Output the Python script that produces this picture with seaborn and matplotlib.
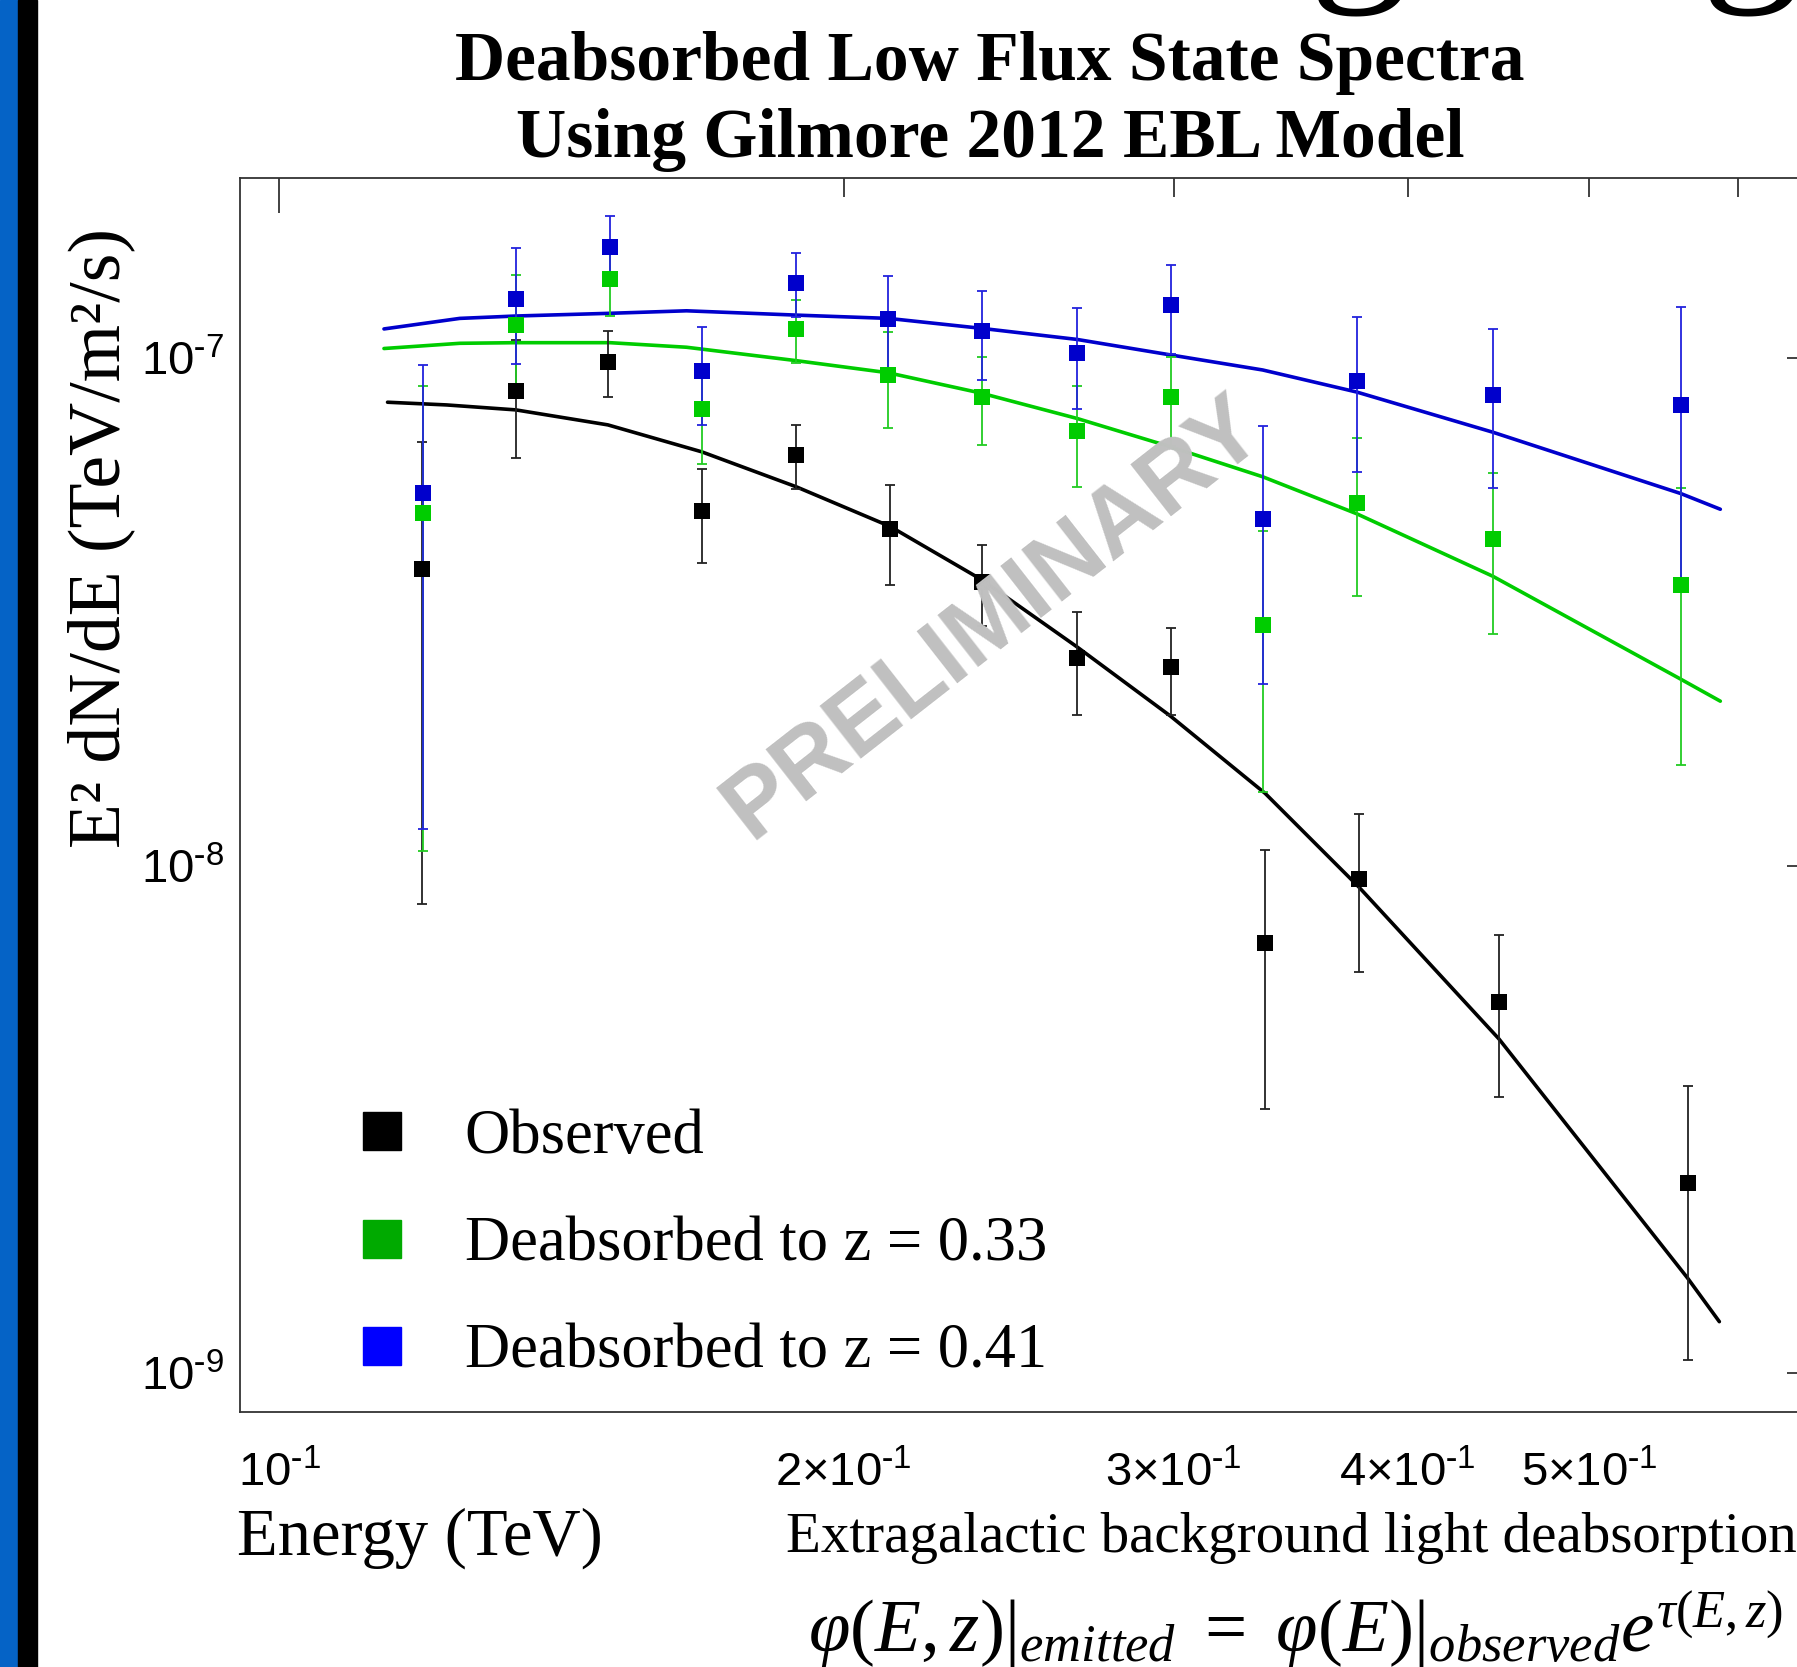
import numpy as np
import matplotlib
matplotlib.use("Agg")
import matplotlib.pyplot as plt
from matplotlib.lines import Line2D
from matplotlib.patches import Rectangle
from matplotlib.ticker import LogLocator, NullFormatter
import seaborn as sns

# ---- data ----
energy_obs = [0.1191, 0.1337, 0.1497, 0.1680, 0.1887, 0.2118, 0.2370,
              0.2664, 0.2989, 0.3357, 0.3767, 0.4474, 0.5641]
energy_deabs = [0.1193, 0.1337, 0.1501, 0.1680, 0.1887, 0.2113, 0.2370,
                0.2664, 0.2989, 0.3347, 0.3756, 0.4440, 0.5596]

flux_obs = [3.84e-8, 8.62e-8, 9.84e-8, 5.00e-8, 6.45e-8, 4.60e-8, 3.63e-8,
            2.57e-8, 2.46e-8, 7.04e-9, 9.41e-9, 5.40e-9, 2.37e-9]
err_obs = [3.00e-8, 2.25e-8, 1.45e-8, 1.05e-8, 0.93e-8, 1.02e-8, 0.66e-8,
           0.585e-8, 0.48e-8, 3.72e-9, 3.23e-9, 1.90e-9, 1.31e-9]

flux_z033 = [4.95e-8, 1.163e-7, 1.432e-7, 7.94e-8, 1.142e-7, 9.27e-8, 8.40e-8,
             7.20e-8, 8.40e-8, 2.98e-8, 5.18e-8, 4.40e-8, 3.57e-8]
err_z033 = [3.88e-8, 2.93e-8, 2.20e-8, 1.75e-8, 1.62e-8, 2.00e-8, 1.65e-8,
            1.63e-8, 1.67e-8, 1.58e-8, 1.78e-8, 1.54e-8, 1.99e-8]

flux_z041 = [5.43e-8, 1.310e-7, 1.658e-7, 9.44e-8, 1.408e-7, 1.193e-7, 1.131e-7,
             1.025e-7, 1.273e-7, 4.82e-8, 9.02e-8, 8.48e-8, 8.10e-8]
err_z041 = [4.25e-8, 3.35e-8, 2.45e-8, 2.07e-8, 2.05e-8, 2.57e-8, 2.24e-8,
            2.32e-8, 2.56e-8, 2.54e-8, 3.06e-8, 2.92e-8, 4.50e-8]

# fitted model curves
fit_e_obs = [0.1142, 0.1228, 0.1337, 0.1497, 0.1680, 0.1887, 0.2118, 0.2370,
             0.2664, 0.2988, 0.3357, 0.3768, 0.4474, 0.5641, 0.5866]
fit_f_obs = [8.19e-8, 8.09e-8, 7.91e-8, 7.39e-8, 6.54e-8, 5.58e-8, 4.66e-8, 3.66e-8,
             2.70e-8, 1.973e-8, 1.389e-8, 9.07e-9, 4.56e-9, 1.541e-9, 1.264e-9]
fit_e_deabs = [0.1137, 0.1248, 0.1337, 0.1501, 0.1649, 0.1887, 0.2113, 0.2370,
               0.2664, 0.2989, 0.3347, 0.3756, 0.4440, 0.5596, 0.5873]
fit_f_z033 = [1.045e-7, 1.070e-7, 1.073e-7, 1.073e-7, 1.051e-7, 9.89e-8, 9.36e-8, 8.53e-8,
              7.61e-8, 6.69e-8, 5.84e-8, 4.94e-8, 3.72e-8, 2.33e-8, 2.11e-8]
fit_f_z041 = [1.142e-7, 1.198e-7, 1.211e-7, 1.226e-7, 1.240e-7, 1.216e-7, 1.198e-7, 1.145e-7,
              1.089e-7, 1.015e-7, 9.48e-8, 8.58e-8, 7.15e-8, 5.41e-8, 5.04e-8]

series_labels = ["Observed", "Deabsorbed to z = 0.33", "Deabsorbed to z = 0.41"]
x_major = [0.1]
x_major_labels = [r"$\mathsf{10^{\text{-}1}}$"]
x_minor = [0.2, 0.3, 0.4, 0.5, 0.6]
x_minor_labels = [r"$\mathsf{2{\times}10^{\text{-}1}}$", r"$\mathsf{3{\times}10^{\text{-}1}}$",
                  r"$\mathsf{4{\times}10^{\text{-}1}}$", r"$\mathsf{5{\times}10^{\text{-}1}}$", ""]
y_major = [1e-9, 1e-8, 1e-7]
y_major_labels = [r"$\mathsf{10^{\text{-}9}}$", r"$\mathsf{10^{\text{-}8}}$",
                  r"$\mathsf{10^{\text{-}7}}$"]

# ---- style ----
sns.set_theme(style="white")
plt.rcParams["font.family"] = ["Liberation Serif", "DejaVu Serif"]
plt.rcParams["text.color"] = "black"
plt.rcParams["axes.labelcolor"] = "black"
plt.rcParams["xtick.color"] = "black"
plt.rcParams["ytick.color"] = "black"
plt.rcParams["mathtext.fontset"] = "custom"
plt.rcParams["mathtext.rm"] = "Liberation Serif"
plt.rcParams["mathtext.it"] = "Liberation Serif:italic"
plt.rcParams["mathtext.bf"] = "Liberation Serif:bold"
plt.rcParams["mathtext.sf"] = "Liberation Sans"

c_black, c_green, c_blue = "#000000", "#00cc00", "#0000cc"

W, H = 1797, 1667
fig = plt.figure(figsize=(W / 100, H / 100), dpi=100)
fig.patch.set_facecolor("white")

# slide side bars
fig.patches.append(Rectangle((0, 0), 18 / W, 1, transform=fig.transFigure,
                             color="#0563c6", zorder=0))
fig.patches.append(Rectangle((18 / W, 0), 18.5 / W, 1, transform=fig.transFigure,
                             color="black", zorder=0))

ax = fig.add_axes([240.3 / W, 1 - 1412 / H, (1836 - 240.3) / W, (1412 - 178) / H])
ax.set_facecolor("white")

# model curves
sns.lineplot(x=fit_e_obs, y=fit_f_obs, ax=ax, color=c_black, lw=2.6,
             estimator=None, sort=False, zorder=2)
sns.lineplot(x=fit_e_deabs, y=fit_f_z033, ax=ax, color=c_green, lw=2.6,
             estimator=None, sort=False, zorder=2)
sns.lineplot(x=fit_e_deabs, y=fit_f_z041, ax=ax, color=c_blue, lw=2.6,
             estimator=None, sort=False, zorder=2)

# data points with errors
for xs, ys, es, col, ecol in [(energy_obs, flux_obs, err_obs, c_black, "#222222"),
                              (energy_deabs, flux_z033, err_z033, c_green, "#22cc22"),
                              (energy_deabs, flux_z041, err_z041, c_blue, "#2222dd")]:
    ax.errorbar(xs, ys, yerr=es, fmt="none", ecolor=ecol, elinewidth=1.3,
                capsize=3.8, capthick=1.3, zorder=3)
    sns.scatterplot(x=xs, y=ys, ax=ax, marker="s", s=130, color=col,
                    linewidth=0, zorder=4)

ax.set_xscale("log")
ax.set_yscale("log")
ax.set_xlim(0.0953, 0.677)
ax.set_ylim(8.39e-10, 2.265e-7)

ax.set_xticks(x_major)
ax.set_xticklabels(x_major_labels)
ax.set_xticks(x_minor, minor=True)
ax.set_xticklabels(x_minor_labels, minor=True)
ax.set_yticks(y_major)
ax.set_yticklabels(y_major_labels)
ax.yaxis.set_minor_locator(LogLocator(base=10, subs=np.arange(2, 10)))
ax.yaxis.set_minor_formatter(NullFormatter())

ax.tick_params(axis="both", which="both", direction="in", top=True, right=True,
               color="#333333", width=1.3, labelsize=34)
ax.tick_params(axis="y", which="major", length=35, pad=12)
ax.tick_params(axis="y", which="minor", length=18)
ax.tick_params(axis="x", which="major", length=25, pad=28)
ax.tick_params(axis="x", which="minor", length=14, pad=28, labelsize=34)
for sp in ax.spines.values():
    sp.set_color("#333333")
    sp.set_linewidth(1.3)
ax.set_xlabel("")
ax.set_ylabel("")

# legend
handles = [Line2D([], [], ls="none", marker="s", markersize=27, color=c)
           for c in ["#000000", "#00aa00", "#0000ff"]]
ax.legend(handles, series_labels, loc="upper left", frameon=False,
          bbox_to_anchor=(351 / W, 1 - 1109 / H), bbox_transform=fig.transFigure,
          borderpad=0, borderaxespad=0, handlelength=1.0, handletextpad=0.82,
          labelspacing=0.79, prop={"family": "Liberation Serif", "size": 45})

# texts
fig.text(990 / W, 1 - 63 / H, "Deabsorbed Low Flux State Spectra", ha="center",
         va="center", fontsize=50, fontweight="bold")
fig.text(990 / W, 1 - 140 / H, "Using Gilmore 2012 EBL Model", ha="center",
         va="center", fontsize=50, fontweight="bold")
fig.text(1358 / W, 1 + 27 / H, "g", ha="center", va="baseline", fontsize=144)
fig.text(1750 / W, 1 + 27 / H, "g", ha="center", va="baseline", fontsize=144)

fig.text(101 / W, 0.677, "E² dN/dE (TeV/m²/s)", rotation=90, ha="center",
         va="center", fontsize=53)
fig.text(237 / W, 1 - 1538 / H, "Energy (TeV)", ha="left", va="center", fontsize=48)
fig.text(786 / W, 1 - 1538 / H, "Extragalactic background light deabsorption",
         ha="left", va="center", fontsize=41)
fig.text(808 / W, 1 - 1630 / H,
         r"$\varphi(E,z)|_{emitted}\ =\ \varphi(E)|_{observed}e^{\tau(E,z)}$",
         ha="left", va="center", fontsize=54)

fig.text(994 / W, 1 - 618 / H, "PRELIMINARY", rotation=38, rotation_mode="anchor",
         ha="center", va="center", fontsize=69, fontweight="bold",
         family="Liberation Sans", color="#c0c0c0", zorder=10)

fig.savefig("out.png", dpi=100)
